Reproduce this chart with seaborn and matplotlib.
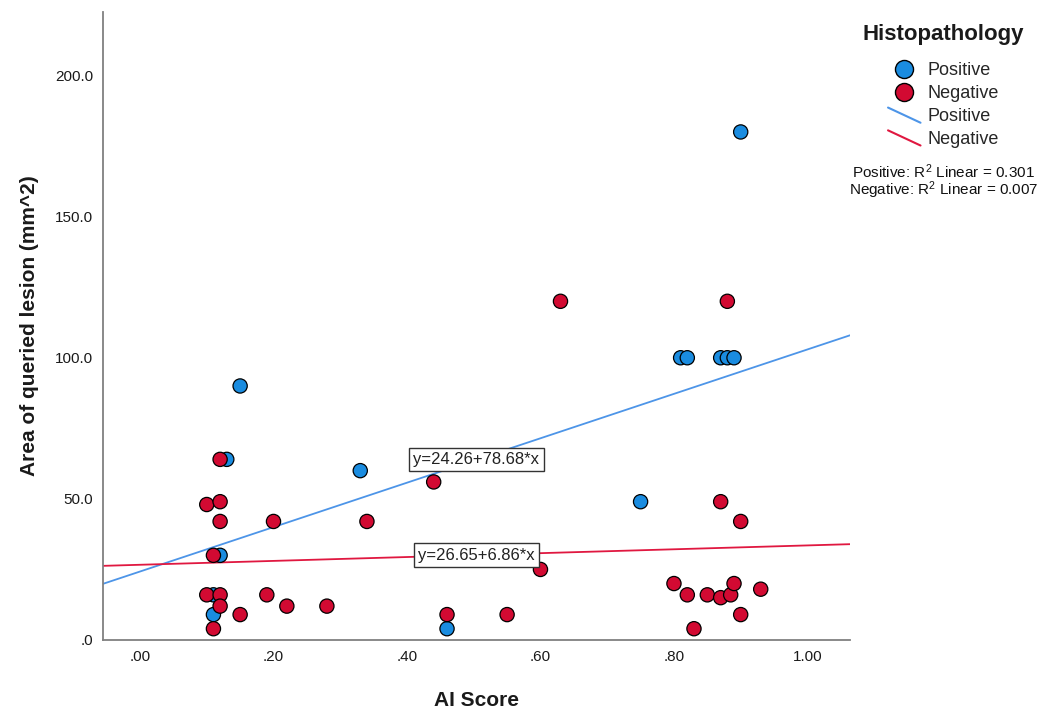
import numpy as np
import pandas as pd
import matplotlib
matplotlib.use("Agg")
import matplotlib.pyplot as plt
from matplotlib.lines import Line2D
from matplotlib.legend_handler import HandlerBase
import seaborn as sns

# AI score vs. lesion area, split by histopathology result
pos_score = [0.90, 0.81, 0.82, 0.87, 0.88, 0.89, 0.75, 0.15, 0.13, 0.33, 0.46, 0.12, 0.11, 0.11]
pos_area = [180, 100, 100, 100, 100, 100, 49, 90, 64, 60, 4, 30, 16, 9]

neg_score = [0.12, 0.10, 0.12, 0.12, 0.20, 0.11, 0.10, 0.12, 0.12, 0.11, 0.15, 0.19,
             0.22, 0.28, 0.34, 0.44, 0.46, 0.55, 0.60, 0.63, 0.88, 0.87, 0.90, 0.80,
             0.82, 0.85, 0.87, 0.885, 0.89, 0.93, 0.90, 0.83]
neg_area = [64, 48, 49, 42, 42, 30, 16, 16, 12, 4, 9, 16,
            12, 12, 42, 56, 9, 9, 25, 120, 120, 49, 42, 20,
            16, 16, 15, 16, 20, 18, 9, 4]

groups = ["Positive", "Negative"]
# Linear fits (intercept, slope) and R squared per group
fit_intercept = [24.26, 26.65]
fit_slope = [78.68, 6.86]
fit_r2 = [0.301, 0.007]

x_ticks = [0.0, 0.2, 0.4, 0.6, 0.8, 1.0]
x_ticklabels = [".00", ".20", ".40", ".60", ".80", "1.00"]
y_ticks = [0, 50, 100, 150, 200]
y_ticklabels = [".0", "50.0", "100.0", "150.0", "200.0"]

point_colors = {"Positive": "#1a8ce0", "Negative": "#d20a32"}
line_colors = {"Positive": "#4d95e8", "Negative": "#e01840"}

df = pd.DataFrame({
    "AI Score": pos_score + neg_score,
    "Area": pos_area + neg_area,
    "Histopathology": ["Positive"] * len(pos_score) + ["Negative"] * len(neg_score),
})

sns.set_theme(style="white")
plt.rcParams["font.family"] = ["Liberation Sans", "DejaVu Sans"]
plt.rcParams["mathtext.default"] = "regular"

fig = plt.figure(figsize=(10.59, 7.10), dpi=100)
ax = fig.add_axes([0.0973, 0.0986, 0.7053, 0.8845])

xlim = (-0.0554, 1.0637)
ylim = (0, 222.5)

sns.scatterplot(data=df, x="AI Score", y="Area", hue="Histopathology",
                hue_order=groups, palette=point_colors, s=105,
                edgecolor="black", linewidth=0.9, legend=False, ax=ax, zorder=3)

# Fit lines across the full x range, with the equation box at the centre
xs = np.array(xlim)
xmid = 0.5 * (xlim[0] + xlim[1])
for g, b0, b1 in zip(groups, fit_intercept, fit_slope):
    ax.plot(xs, b0 + b1 * xs, color=line_colors[g], lw=1.3, zorder=2)
    ax.text(xmid, b0 + b1 * xmid, f"y={b0:.2f}+{b1:.2f}*x", ha="center", va="center",
            fontsize=12, color="#222222", zorder=4,
            bbox=dict(boxstyle="square,pad=0.25", facecolor="white",
                      edgecolor="#333333", linewidth=1.0))

ax.set_xlim(*xlim)
ax.set_ylim(*ylim)
ax.set_xticks(x_ticks)
ax.set_xticklabels(x_ticklabels)
ax.set_yticks(y_ticks)
ax.set_yticklabels(y_ticklabels)
ax.tick_params(axis="both", length=0, labelsize=11, colors="#1a1a1a")
ax.tick_params(axis="y", pad=7)
ax.tick_params(axis="x", pad=7)

for side in ["top", "right"]:
    ax.spines[side].set_visible(False)
for side in ["left", "bottom"]:
    ax.spines[side].set_color("#808080")
    ax.spines[side].set_linewidth(1.3)

ax.set_xlabel("AI Score", fontsize=15, fontweight="bold", color="#1a1a1a", labelpad=20)
ax.set_ylabel("Area of queried lesion (mm^2)", fontsize=15, fontweight="bold",
              color="#1a1a1a", labelpad=12)


class HandlerSlant(HandlerBase):
    def create_artists(self, legend, orig_handle, xdescent, ydescent, width, height,
                       fontsize, trans):
        x0, x1 = -xdescent, -xdescent + width
        y0, y1 = -ydescent + height * 1.05, -ydescent - height * 0.15
        ln = Line2D([x0, x1], [y0, y1], color=orig_handle.get_color(),
                    lw=orig_handle.get_linewidth(), transform=trans)
        return [ln]


handles = []
labels = []
for g in groups:
    handles.append(Line2D([], [], marker="o", linestyle="none", markersize=13,
                          markerfacecolor=point_colors[g], markeredgecolor="black",
                          markeredgewidth=1.0))
    labels.append(g)
line_handles = []
for g in groups:
    h = Line2D([], [], color=line_colors[g], lw=1.5)
    line_handles.append(h)
    handles.append(h)
    labels.append(g)

fig.text(0.891, 0.952, "Histopathology", ha="center", va="center",
         fontsize=16, fontweight="bold", color="#1a1a1a")

leg = fig.legend(handles, labels, loc="upper center", bbox_to_anchor=(0.891, 0.925),
                 frameon=False, fontsize=13,
                 handlelength=1.8, handletextpad=0.4, labelspacing=0.32,
                 borderpad=0.0,
                 handler_map={h: HandlerSlant() for h in line_handles})

for i, (g, r) in enumerate(zip(groups, fit_r2)):
    fig.text(0.891, 1 - (172 + 18 * i) / 710, f"{g}: R$^2$ Linear = {r:.3f}",
             ha="center", va="center", fontsize=11, color="#111111")

fig.savefig("out.png", dpi=100, facecolor="white")
